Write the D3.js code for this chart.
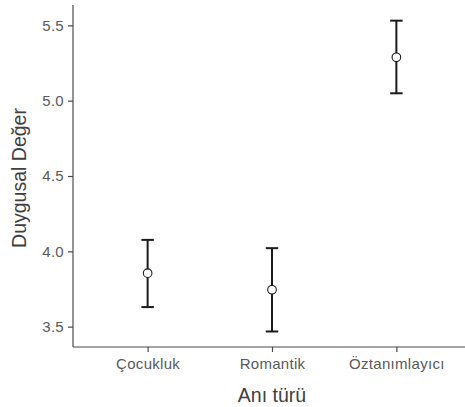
<!DOCTYPE html>
<html><head><meta charset="utf-8">
<script src="https://cdn.jsdelivr.net/npm/d3@7"></script>
<style>body{margin:0;background:#fff}svg{display:block}</style>
</head><body>
<script>
const categories = ["Çocukluk", "Romantik", "Öztanımlayıcı"];
const means = [3.855, 3.745, 5.288];
const lower = [3.630, 3.468, 5.049];
const upper = [4.076, 4.021, 5.531];
const yTicks = [3.5, 4.0, 4.5, 5.0, 5.5];
const xTitle = "Anı türü";
const yTitle = "Duygusal Değer";

(function () {
const W = 465, H = 407;
const svg = d3.select("body").append("svg").attr("width", W).attr("height", H);
const mLeft = 73, mRight = 471, mTop = 5, mBottom = 347;

const x = d3.scalePoint().domain(categories).range([mLeft, mRight]).padding(0.6);
const y = d3.scaleLinear().domain([3.365, 5.635]).range([mBottom, mTop]);

const font = "'Liberation Sans', Arial, sans-serif";
const axisCol = "#4a4a4a";
const tickText = "#5a5a5a";

// Y axis
const ya = svg.append("g").attr("transform", `translate(${mLeft},0)`)
  .call(d3.axisLeft(y).tickValues(yTicks).tickFormat(d3.format(".1f")).tickSize(5).tickPadding(4));
ya.select(".domain").attr("stroke", axisCol).attr("d", `M0,${mTop}V${mBottom}`);
ya.selectAll(".tick line").attr("stroke", axisCol);
ya.selectAll(".tick text").attr("fill", tickText).style("font-family", font).style("font-size", "15px").style("letter-spacing", "0.3px");

// X axis
const xa = svg.append("g").attr("transform", `translate(0,${mBottom})`)
  .call(d3.axisBottom(x).tickSize(5).tickPadding(6));
xa.select(".domain").attr("stroke", axisCol).attr("d", `M${mLeft},0H${mRight}`);
xa.selectAll(".tick line").attr("stroke", axisCol);
xa.selectAll(".tick text").attr("fill", tickText).style("font-family", font).style("font-size", "15px").style("letter-spacing", "0.3px");
svg.selectAll(".domain").attr("stroke-width", 1.2);
svg.selectAll(".tick line").attr("stroke-width", 1.2);

// Error bars
const capW = x.step() * 0.1;
const g = svg.append("g");
categories.forEach((c, i) => {
  const cx = x(c);
  g.append("line").attr("x1", cx).attr("x2", cx).attr("y1", y(lower[i])).attr("y2", y(upper[i]))
    .attr("stroke", "#1a1a1a").attr("stroke-width", 2);
  [lower[i], upper[i]].forEach(v => {
    g.append("line").attr("x1", cx - capW / 2).attr("x2", cx + capW / 2).attr("y1", y(v)).attr("y2", y(v))
      .attr("stroke", "#1a1a1a").attr("stroke-width", 2);
  });
  g.append("circle").attr("cx", cx).attr("cy", y(means[i])).attr("r", 4.3)
    .attr("fill", "#fff").attr("stroke", "#1a1a1a").attr("stroke-width", 1.1);
});

// Titles
svg.append("text").attr("x", (mLeft + mRight) / 2).attr("y", 401.5).attr("text-anchor", "middle")
  .attr("fill", "#404040").style("font-family", font).style("font-size", "19.5px").text(xTitle);
svg.append("text").attr("transform", `translate(26,${(mTop + mBottom) / 2 + 2}) rotate(-90)`).attr("text-anchor", "middle")
  .attr("fill", "#404040").style("font-family", font).style("font-size", "19.5px").text(yTitle);
})();
</script>
</body></html>
